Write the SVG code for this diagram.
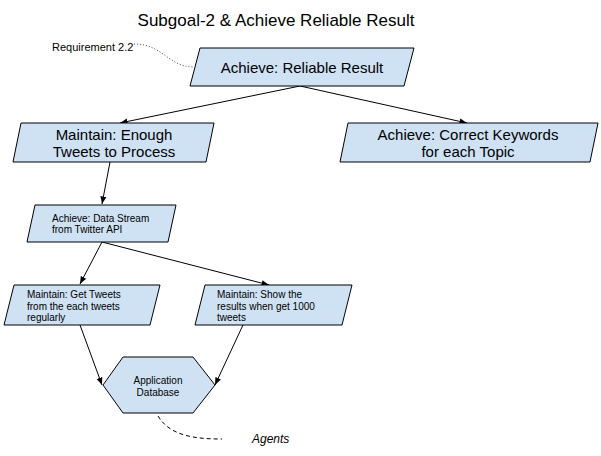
<svg xmlns="http://www.w3.org/2000/svg" width="601" height="456" viewBox="0 0 601 456">
<defs>
<marker id="arr" markerUnits="userSpaceOnUse" markerWidth="8" markerHeight="8" viewBox="0 0 8 8" refX="7.5" refY="4" orient="auto">
<path d="M0,1 L7.5,4 L0,7 Z" fill="#000"/>
</marker>
<style>
.box{fill:#cfe2f3;stroke:#000;stroke-width:1}
.t15{font-family:"Liberation Sans",Arial,sans-serif;font-size:15px;fill:#000;text-anchor:middle}
.t10{font-family:"Liberation Sans",Arial,sans-serif;font-size:10px;fill:#000}
.edge{fill:none;stroke:#000;stroke-width:1;marker-end:url(#arr)}
</style>
</defs>
<rect width="601" height="456" fill="#fff"/>
<text x="276" y="26" font-family="Liberation Sans, Arial, sans-serif" font-size="17" text-anchor="middle" fill="#000">Subgoal-2 &amp; Achieve Reliable Result</text>
<g id="connectors">
<path class="edge" d="M300,86 L120,123"/>
<path class="edge" d="M300,86 L467,123"/>
<path class="edge" d="M110,162 L102,204"/>
<path class="edge" d="M102,242 L80,284"/>
<path class="edge" d="M102,242 L269,285"/>
<path class="edge" d="M80,325 L102,385"/>
<path class="edge" d="M243,325 L215,385"/>
<path d="M134,44 C163,44 168,67 194,67" fill="none" stroke="#444" stroke-width="1" stroke-dasharray="1,2"/>
<path d="M158,416 C170,436 195,439 222,439" fill="none" stroke="#000" stroke-width="1" stroke-dasharray="4,3"/>
</g>
<g id="req">
<text x="52" y="51" font-family="Liberation Sans, Arial, sans-serif" font-size="11" fill="#000">Requirement 2.2</text>
</g>
<g id="n1">
<polygon class="box" points="200,48 414,48 404,86 190,86"/>
<text class="t15" x="302" y="73">Achieve: Reliable Result</text>
</g>
<g id="n2">
<polygon class="box" points="21,123 214,123 206,162 13,162"/>
<text class="t15" x="114" y="140">Maintain: Enough</text>
<text class="t15" x="114" y="157">Tweets to Process</text>
</g>
<g id="n3">
<polygon class="box" points="348,123 598,123 590,162 340,162"/>
<text class="t15" x="468" y="140">Achieve: Correct Keywords</text>
<text class="t15" x="468" y="157">for each Topic</text>
</g>
<g id="n4">
<polygon class="box" points="35,205 176,205 168,242 27,242"/>
<text class="t10" x="52" y="221.5">Achieve: Data Stream</text>
<text class="t10" x="52" y="233">from Twitter API</text>
</g>
<g id="n5">
<polygon class="box" points="14,285 160,285 150,325 4,325"/>
<text class="t10" x="27" y="298">Maintain: Get Tweets</text>
<text class="t10" x="27" y="309.5">from the each tweets</text>
<text class="t10" x="27" y="321">regularly</text>
</g>
<g id="n6">
<polygon class="box" points="205,285 352,285 342,325 195,325"/>
<text class="t10" x="217" y="298">Maintain: Show the</text>
<text class="t10" x="217" y="309.5">results when get 1000</text>
<text class="t10" x="217" y="321">tweets</text>
</g>
<g id="n7">
<polygon class="box" points="123,357 193,357 215,385 193,413 123,413 103,385"/>
<text class="t10" x="158" y="384" text-anchor="middle">Application</text>
<text class="t10" x="158" y="395.5" text-anchor="middle">Database</text>
</g>
<g id="agents">
<text x="252" y="443" font-family="Liberation Sans, Arial, sans-serif" font-size="12" font-style="italic" fill="#000">Agents</text>
</g>
</svg>
